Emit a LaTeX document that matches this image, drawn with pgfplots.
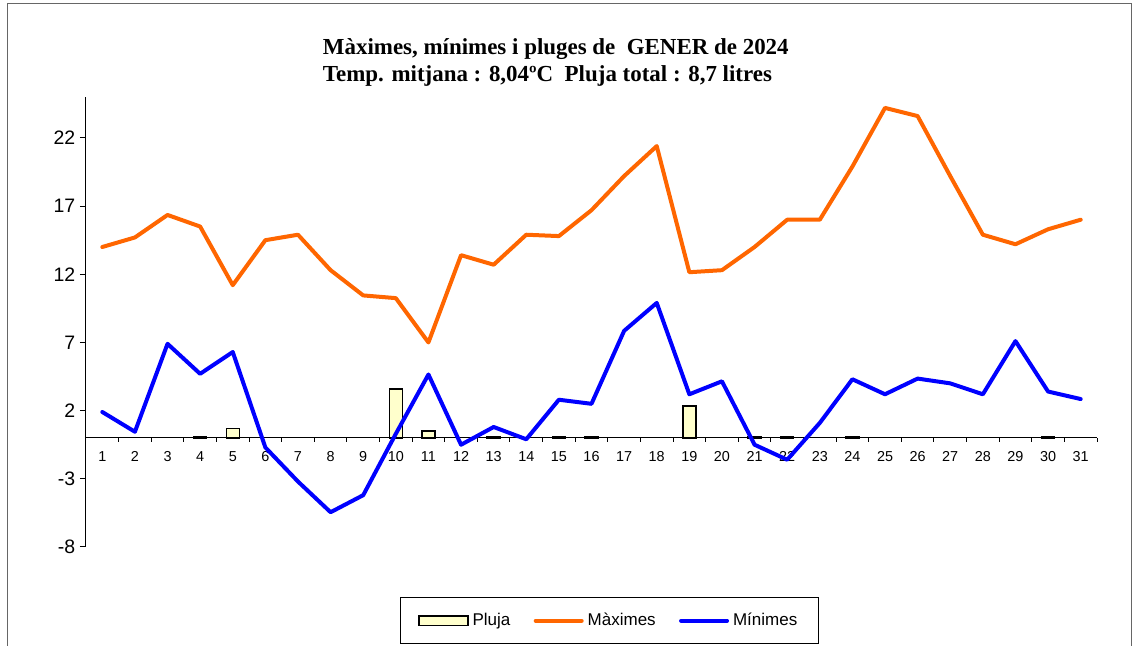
\documentclass[border=0pt]{standalone}
\usepackage{fontspec}
\setmainfont{Liberation Sans}
\newfontfamily\titlefont{Liberation Serif}
\usepackage{pgfplots}
\pgfplotsset{compat=1.18}
\definecolor{maxc}{HTML}{FF6600}
\definecolor{minc}{HTML}{0000FF}
\definecolor{rainc}{HTML}{FFFFCC}
\begin{document}
\begin{tikzpicture}[x=0.75pt,y=0.75pt]
\useasboundingbox (0,0) rectangle (1139,646);
\draw[line width=1.2pt, black!60] (7.3,0) -- (7.3,642.5) -- (1131.3,642.5) -- (1131.3,0);
\node[inner sep=0pt, anchor=base west, font=\titlefont\bfseries\fontsize{17.2}{20}\selectfont] at (322.7,591) {Màximes, mínimes i pluges de\ \ GENER de 2024};
\node[inner sep=0pt, anchor=base west, font=\titlefont\bfseries\fontsize{17.2}{20}\selectfont] at (322.7,564.3) {Temp. mitjana : 8,04ºC\ \ Pluja total : 8,7 litres};
\begin{axis}[
  at={(64.5pt,74.25pt)}, anchor=south west,
  scale only axis, width=758.25pt, height=337.5pt,
  xmin=0.5, xmax=31.5, ymin=-8, ymax=25,
  axis y line=left, axis x line=middle,
  axis line style={-, line width=0.75pt},
  ytick={-8,-3,2,7,12,17,22},
  xtick={1,...,31},
  minor xtick={0.5,1.5,...,31.5},
  tick align=outside,
  major tick length=4.5pt, minor tick length=3pt,
  tick style={black, line width=0.75pt},
  major x tick style={draw=none},
  /pgf/number format/assume math mode=true,
  yticklabel style={font=\fontsize{14.6}{16}\selectfont},
  xticklabel style={font=\fontsize{10.8}{12}\selectfont, yshift=-2pt},
  clip=false,
  legend columns=3,
  legend style={at={(0.3106,-0.111)}, anchor=north west, draw=black, line width=0.75pt,
    font=\fontsize{12.75}{14}\selectfont, inner xsep=13.2pt, inner ysep=9pt,
    nodes={inner sep=3pt},
    /tikz/every even column/.append style={column sep=14.5pt}},
]
\addplot[ybar, bar width=9.75pt, bar shift=0pt, fill=rainc, draw=black, line width=1.1pt,
  legend image code/.code={\draw[fill=rainc,draw=black,line width=1.1pt] (0pt,-3.6pt) rectangle (36.75pt,3.6pt);}]
coordinates {(4,0.1) (5,0.7) (10,3.6) (11,0.5) (13,0.1) (15,0.1) (16,0.1) (19,2.35) (21,0.1) (22,0.1) (24,0.1) (30,0.1)};
\addlegendentry{Pluja}
\addplot[maxc, line width=3pt, line join=round, line cap=round, mark=none,
  legend image code/.code={\draw[maxc,line width=3pt,line cap=round] (1.5pt,0pt) -- (36pt,0pt);}]
coordinates {(1,14.0) (2,14.7) (3,16.35) (4,15.5) (5,11.2) (6,14.5) (7,14.9) (8,12.3) (9,10.45) (10,10.25) (11,7.0) (12,13.4) (13,12.7) (14,14.9) (15,14.8) (16,16.7) (17,19.2) (18,21.4) (19,12.15) (20,12.3) (21,14.0) (22,16.0) (23,16.0) (24,19.9) (25,24.2) (26,23.6) (27,19.2) (28,14.9) (29,14.2) (30,15.3) (31,16.0)};
\addlegendentry{Màximes}
\addplot[minc, line width=3pt, line join=round, line cap=round, mark=none,
  legend image code/.code={\draw[minc,line width=3pt,line cap=round] (1.5pt,0pt) -- (36pt,0pt);}]
coordinates {(1,1.9) (2,0.45) (3,6.9) (4,4.7) (5,6.3) (6,-0.7) (7,-3.2) (8,-5.45) (9,-4.2) (10,0.3) (11,4.65) (12,-0.5) (13,0.8) (14,-0.1) (15,2.8) (16,2.5) (17,7.85) (18,9.9) (19,3.2) (20,4.15) (21,-0.5) (22,-1.6) (23,1.1) (24,4.3) (25,3.2) (26,4.35) (27,4.0) (28,3.2) (29,7.1) (30,3.4) (31,2.85)};
\addlegendentry{Mínimes}
\end{axis}
\end{tikzpicture}
\end{document}
